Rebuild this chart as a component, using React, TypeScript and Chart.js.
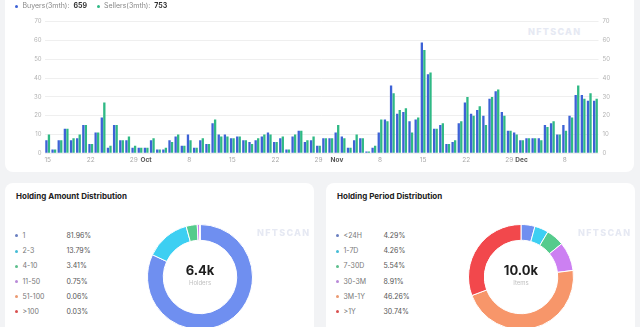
import React, { useEffect, useRef } from "react";
import Chart from "chart.js/auto";

const DAYS: string[] = [
  "Sep 15","Sep 16","Sep 17","Sep 18","Sep 19","Sep 20","Sep 21","Sep 22","Sep 23","Sep 24","Sep 25","Sep 26","Sep 27","Sep 28","Sep 29","Sep 30",
  "Oct 1","Oct 2","Oct 3","Oct 4","Oct 5","Oct 6","Oct 7","Oct 8","Oct 9","Oct 10","Oct 11","Oct 12","Oct 13","Oct 14","Oct 15","Oct 16","Oct 17","Oct 18","Oct 19","Oct 20","Oct 21","Oct 22","Oct 23","Oct 24","Oct 25","Oct 26","Oct 27","Oct 28","Oct 29","Oct 30","Oct 31",
  "Nov 1","Nov 2","Nov 3","Nov 4","Nov 5","Nov 6","Nov 7","Nov 8","Nov 9","Nov 10","Nov 11","Nov 12","Nov 13","Nov 14","Nov 15","Nov 16","Nov 17","Nov 18","Nov 19","Nov 20","Nov 21","Nov 22","Nov 23","Nov 24","Nov 25","Nov 26","Nov 27","Nov 28","Nov 29","Nov 30",
  "Dec 1","Dec 2","Dec 3","Dec 4","Dec 5","Dec 6","Dec 7","Dec 8","Dec 9","Dec 10","Dec 11","Dec 12","Dec 13",
];

const BUYERS: number[] = [
  7, 2, 7, 13, 7, 8, 15, 5, 11, 19, 3, 15, 7, 7, 3, 3,
  3, 7, 2, 2, 7, 9, 4, 10, 3, 7, 5, 16, 10, 10, 8, 9, 7, 6, 7, 9, 11, 6, 8, 2, 9, 12, 6, 7, 4, 8, 8,
  11, 9, 3, 7, 8, 1, 3, 11, 18, 36, 21, 22, 17, 18, 59, 42, 13, 15, 5, 6, 16, 27, 21, 23, 20, 29, 33, 22, 12, 11,
  7, 8, 8, 8, 15, 16, 10, 15, 20, 31, 31, 28, 28,
];

const SELLERS: number[] = [
  10, 2, 7, 13, 8, 10, 15, 5, 11, 27, 4, 15, 7, 9, 4, 3,
  3, 8, 2, 3, 6, 10, 4, 7, 3, 8, 5, 18, 9, 9, 8, 9, 7, 5, 8, 10, 10, 6, 9, 2, 10, 12, 7, 9, 4, 8, 8,
  15, 8, 3, 10, 8, 1, 4, 18, 17, 32, 23, 24, 11, 19, 55, 43, 13, 16, 5, 7, 17, 30, 20, 25, 15, 30, 34, 20, 12, 10,
  7, 8, 8, 7, 14, 17, 10, 12, 19, 36, 29, 32, 29,
];

const TICK_DAYS: number[] = [1, 8, 15, 22, 29];
const Y_MIN = 0;
const Y_MAX = 70;
const Y_STEP = 10;

const BUYERS_TOTAL = "659";
const SELLERS_TOTAL = "753";

const AMOUNT_LABELS: string[] = ["1", "2-3", "4-10", "11-50", "51-100", ">100"];
const AMOUNT_VALUES: number[] = [81.96, 13.79, 3.41, 0.75, 0.06, 0.03];
const PERIOD_LABELS: string[] = ["<24H", "1-7D", "7-30D", "30-3M", "3M-1Y", ">1Y"];
const PERIOD_VALUES: number[] = [4.29, 4.26, 5.54, 8.91, 46.26, 30.74];

const BLUE = "#3d62d6";
const GREEN = "#2fb985";
const SLICE_COLORS = ["#6f8ff0", "#3dcff2", "#55cb8c", "#cc80f2", "#f7966a", "#f2484c"];
const DOT_COLORS = ["#6a7fc0", "#45bcd6", "#5dbf8c", "#b98ad8", "#eb9a72", "#d9504f"];

const FONT = "Inter, 'Noto Sans', Arial, sans-serif";

function BarChart() {
  const ref = useRef<HTMLCanvasElement | null>(null);
  useEffect(() => {
    if (!ref.current) return;
    const labelFor = (i: number) => {
      const [mon, d] = DAYS[i].split(" ");
      const day = parseInt(d, 10);
      if (day === 1) return mon;
      if (TICK_DAYS.includes(day)) return String(day);
      return "";
    };
    const isMonth = (i: number) => parseInt(DAYS[i].split(" ")[1], 10) === 1;
    const chart = new Chart(ref.current, {
      type: "bar",
      data: {
        labels: DAYS,
        datasets: [
          { label: "Buyers", data: BUYERS, backgroundColor: BLUE, categoryPercentage: 0.82, barPercentage: 0.92 },
          { label: "Sellers", data: SELLERS, backgroundColor: GREEN, categoryPercentage: 0.82, barPercentage: 0.92 },
        ],
      },
      options: {
        animation: false,
        responsive: false,
        layout: { padding: { top: 21.7, left: 0, right: 0, bottom: 0 } },
        plugins: { legend: { display: false }, tooltip: { enabled: false } },
        scales: {
          x: {
            grid: { display: false, drawTicks: false },
            border: { display: false },
            ticks: {
              autoSkip: false,
              maxRotation: 0,
              padding: 3,
              font: (ctx: any) => ({ size: 6.5, family: FONT, weight: isMonth(ctx.index) ? "bold" : "normal" }),
              color: (ctx: any) => (isMonth(ctx.index) ? "#555" : "#aaa"),
              callback: (_v: any, i: number) => labelFor(i),
            },
            afterFit: (s: any) => { s.height = 18.7; },
          },
          y: {
            position: "left",
            min: Y_MIN,
            max: Y_MAX,
            ticks: { stepSize: Y_STEP, padding: 3, font: { size: 6, family: FONT }, color: "#b3b3b3" },
            grid: { color: "#efefef", drawTicks: false },
            border: { display: false },
            afterFit: (s: any) => { s.width = 44.6; },
          },
          y2: {
            position: "right",
            min: Y_MIN,
            max: Y_MAX,
            ticks: { stepSize: Y_STEP, padding: 4, font: { size: 6, family: FONT }, color: "#b3b3b3" },
            grid: { display: false, drawTicks: false },
            border: { display: false },
            afterFit: (s: any) => { s.width = 41.5; },
          },
        },
      } as any,
    });
    return () => chart.destroy();
  }, []);
  return <canvas ref={ref} width={640} height={172} style={{ position: "absolute", left: 0, top: 0, width: 640, height: 172 }} />;
}

function Donut({ values, labels, left, top }: { values: number[]; labels: string[]; left: number; top: number }) {
  const ref = useRef<HTMLCanvasElement | null>(null);
  useEffect(() => {
    if (!ref.current) return;
    const chart = new Chart(ref.current, {
      type: "doughnut",
      data: {
        labels,
        datasets: [{ data: values, backgroundColor: SLICE_COLORS, borderColor: "#ffffff", borderWidth: 1 }],
      },
      options: {
        animation: false,
        responsive: false,
        cutout: "70%",
        layout: { padding: 0 },
        plugins: { legend: { display: false }, tooltip: { enabled: false } },
      } as any,
    });
    return () => chart.destroy();
  }, []);
  return <canvas ref={ref} width={106} height={106} style={{ position: "absolute", left, top, width: 106, height: 106 }} />;
}

function Card({ x, title, labels, values, center, sub, donutLeft }: any) {
  const rows = [235.7, 251, 266.3, 281.7, 296.7, 311.7];
  return (
    <>
      <div style={{ position: "absolute", left: x, top: 183, width: 309, height: 160, background: "#fff", borderRadius: 8 }} />
      <div style={{ position: "absolute", left: x + 11, top: 190, fontSize: 8, fontWeight: 700, color: "#222", whiteSpace: "nowrap", lineHeight: "12px" }}>{title}</div>
      {labels.map((l: string, i: number) => (
        <React.Fragment key={l}>
          <div style={{ position: "absolute", left: x + 10, top: rows[i] - 1.5, width: 3, height: 3, borderRadius: 2, background: DOT_COLORS[i] }} />
          <div style={{ position: "absolute", left: x + 17.5, top: rows[i] - 5, fontSize: 7, color: "#777", lineHeight: "10px", whiteSpace: "nowrap" }}>{l}</div>
          <div style={{ position: "absolute", left: x + (donutLeft > 400 ? 57.5 : 61.5), top: rows[i] - 5, fontSize: 7, color: "#555", lineHeight: "10px", whiteSpace: "nowrap" }}>{values[i].toFixed(2)}%</div>
        </React.Fragment>
      ))}
      <Donut values={values} labels={labels} left={donutLeft} top={224} />
      <div style={{ position: "absolute", left: donutLeft, width: 106, top: 262, textAlign: "center", fontSize: 13, fontWeight: 700, color: "#1e1e1e", lineHeight: "16px" }}>{center}</div>
      <div style={{ position: "absolute", left: donutLeft, width: 106, top: 279, textAlign: "center", fontSize: 6, color: "#c0c0c0", lineHeight: "8px" }}>{sub}</div>
      <div style={{ position: "absolute", left: x + 252, top: 228, fontSize: 9, fontWeight: 800, letterSpacing: 1.3, color: "#e6e9f3", lineHeight: "10px" }}>NFTSCAN</div>
    </>
  );
}

export default function App() {
  return (
    <div style={{ position: "fixed", left: 0, top: 0, width: 640, height: 327, overflow: "hidden", background: "#f2f3f5", fontFamily: FONT }}>
      <div style={{ position: "absolute", left: 5, top: -10, width: 629, height: 182, background: "#fff", borderRadius: 8 }} />
      <div style={{ position: "absolute", left: 528, top: 27, fontSize: 9, fontWeight: 800, letterSpacing: 1.3, color: "#e6e9f3", lineHeight: "10px" }}>NFTSCAN</div>
      <BarChart />
      <div style={{ position: "absolute", left: 15, top: 4.8, width: 3, height: 3, borderRadius: 2, background: BLUE }} />
      <div style={{ position: "absolute", left: 22.5, top: 1, fontSize: 7, color: "#888", lineHeight: "10px", whiteSpace: "nowrap" }}>
        Buyers(3mth):&nbsp; <b style={{ color: "#333" }}>{BUYERS_TOTAL}</b>
      </div>
      <div style={{ position: "absolute", left: 96.5, top: 4.8, width: 3, height: 3, borderRadius: 2, background: GREEN }} />
      <div style={{ position: "absolute", left: 104, top: 1, fontSize: 7, color: "#888", lineHeight: "10px", whiteSpace: "nowrap" }}>
        Sellers(3mth):&nbsp; <b style={{ color: "#333" }}>{SELLERS_TOTAL}</b>
      </div>
      <Card x={5} title="Holding Amount Distribution" labels={AMOUNT_LABELS} values={AMOUNT_VALUES} center="6.4k" sub="Holders" donutLeft={147} />
      <Card x={326} title="Holding Period Distribution" labels={PERIOD_LABELS} values={PERIOD_VALUES} center="10.0k" sub="Items" donutLeft={468} />
    </div>
  );
}
